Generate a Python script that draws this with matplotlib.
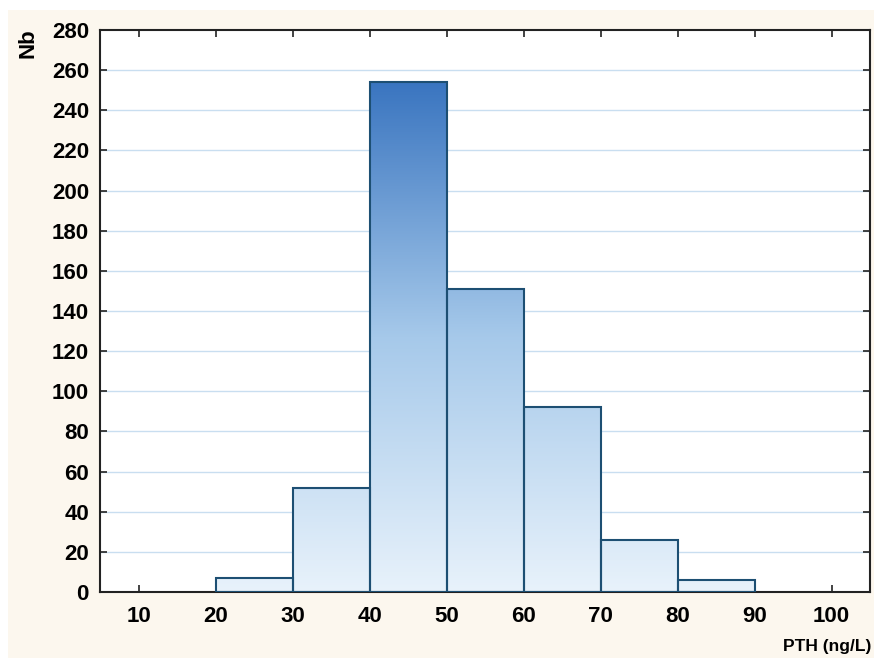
import numpy as np
import matplotlib.pyplot as plt
from matplotlib.colors import LinearSegmentedColormap
from matplotlib.patches import Rectangle

plt.rcParams['font.family'] = ['Liberation Sans', 'DejaVu Sans']
plt.rcParams['font.weight'] = 'bold'

bin_edges = [20, 30, 40, 50, 60, 70, 80, 90]
counts = [7, 52, 254, 151, 92, 26, 6]
xticks = [10, 20, 30, 40, 50, 60, 70, 80, 90, 100]
yticks = list(range(0, 281, 20))

fig = plt.figure(figsize=(8.74, 6.6), dpi=100)
fig.patch.set_facecolor('white')
fig.patches.append(Rectangle((8 / 874, 2 / 660), 1, 648 / 660, transform=fig.transFigure,
                             facecolor='#fcf7ee', edgecolor='none', zorder=-10))

ax = fig.add_axes([100 / 874, 68 / 660, 770 / 874, 562 / 660])
ax.set_facecolor('white')

for y in yticks[1:-1]:
    ax.axhline(y, color='#c9def0', lw=1, zorder=1)

cmap = LinearSegmentedColormap.from_list('b', ['#e8f2fb', '#a6c9ea', '#3a75c0'])
grad = np.linspace(0, 1, 256).reshape(-1, 1)
widths = np.diff(bin_edges)
bars = ax.bar(bin_edges[:-1], counts, width=widths, align='edge',
              facecolor='none', edgecolor='#1d4f73', linewidth=1.5, zorder=3)
for b in bars:
    im = ax.imshow(grad, cmap=cmap, origin='lower', aspect='auto',
                   extent=[5, 105, 0, 254], zorder=2)
    im.set_clip_path(b)
ax.set_xlim(5, 105)
ax.set_ylim(0, 280)

ax.set_xticks(xticks)
ax.set_yticks(yticks)
ax.tick_params(direction='in', top=True, right=True, length=5, width=1.2,
               labelsize=16, pad=10, color='#222222')
ax.tick_params(axis='y', pad=8)
for s in ax.spines.values():
    s.set_linewidth(1.5)
    s.set_color('#222222')

fig.text(28 / 874, 1 - 43 / 660, 'Nb', rotation=90, fontsize=16, fontweight='bold',
         ha='center', va='center')
fig.text(871 / 874, 9 / 660, 'PTH (ng/L)', fontsize=12.5,
         fontweight='bold', ha='right', va='baseline')

fig.savefig('out.png', dpi=100)
